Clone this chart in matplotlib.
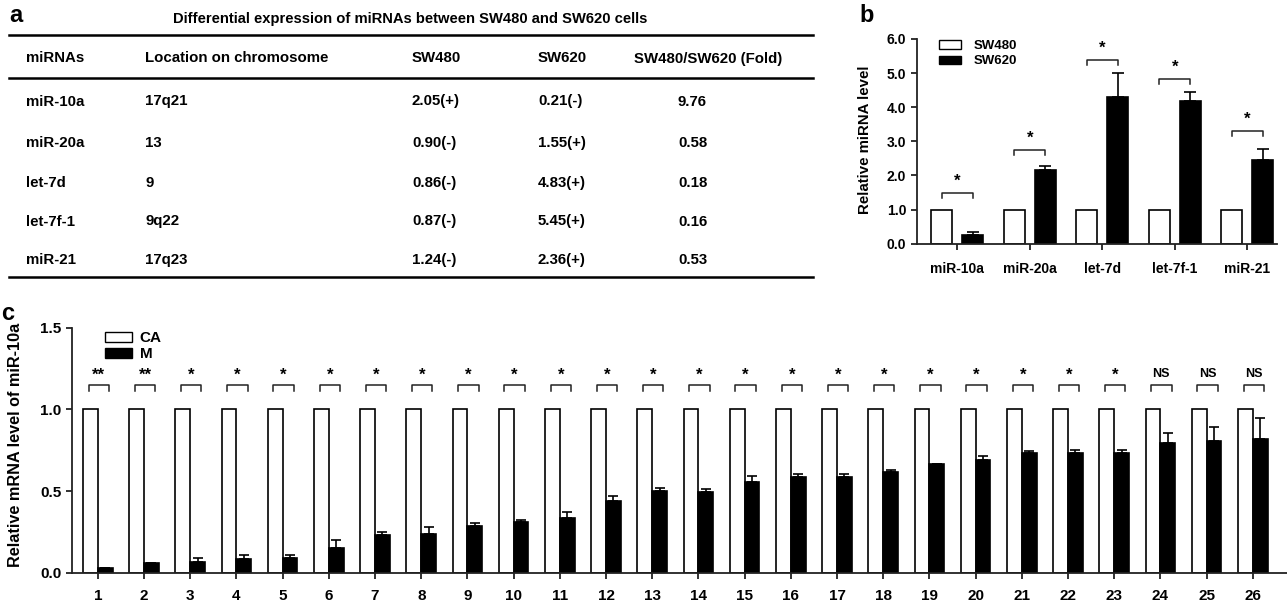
import numpy as np
import matplotlib
matplotlib.use("Agg")
import matplotlib.pyplot as plt
from matplotlib.patches import Patch

plt.rcParams['font.family'] = ['Liberation Sans', 'DejaVu Sans']
plt.rcParams['font.weight'] = 'bold'

# ---- panel a: table ----
table_title = "Differential expression of miRNAs between SW480 and SW620 cells"
table_header = ["miRNAs", "Location on chromosome", "SW480", "SW620", "SW480/SW620 (Fold)"]
mirnas = ["miR-10a", "miR-20a", "let-7d", "let-7f-1", "miR-21"]
locations = ["17q21", "13", "9", "9q22", "17q23"]
sw480_col = ["2.05(+)", "0.90(-)", "0.86(-)", "0.87(-)", "1.24(-)"]
sw620_col = ["0.21(-)", "1.55(+)", "4.83(+)", "5.45(+)", "2.36(+)"]
fold_col = ["9.76", "0.58", "0.18", "0.16", "0.53"]

# ---- panel b ----
b_labels = ["miR-10a", "miR-20a", "let-7d", "let-7f-1", "miR-21"]
b_sw480 = [1.0, 1.0, 1.0, 1.0, 1.0]
b_sw620 = [0.254, 2.15, 4.30, 4.18, 2.45]
b_sw620_err = [0.076, 0.12, 0.71, 0.27, 0.33]
b_bracket = [1.50, 2.74, 5.38, 4.84, 3.30]
b_sig = ["*", "*", "*", "*", "*"]

# ---- panel c ----
c_labels = [str(i) for i in range(1, 27)]
c_ca = [1.0] * 26
c_m = [0.03, 0.06, 0.067, 0.086, 0.088, 0.151, 0.229, 0.235, 0.284, 0.308,
       0.337, 0.441, 0.498, 0.492, 0.555, 0.584, 0.586, 0.616, 0.667, 0.69,
       0.733, 0.735, 0.735, 0.792, 0.806, 0.82]
c_m_err = [0.0, 0.0, 0.021, 0.02, 0.022, 0.049, 0.022, 0.047, 0.02, 0.014,
           0.032, 0.03, 0.022, 0.018, 0.039, 0.018, 0.02, 0.015, 0.0, 0.026,
           0.014, 0.018, 0.014, 0.065, 0.086, 0.125]
c_sig = ["**", "**"] + ["*"] * 21 + ["NS"] * 3

W, H = 1287, 606
fig = plt.figure(figsize=(W / 100, H / 100), dpi=100)


def fx(px):
    return px / W


def fy(py):
    return 1 - py / H


# ================= panel a =================
ax_a = fig.add_axes([0, 0, 1, 1])
ax_a.set_xlim(0, W)
ax_a.set_ylim(H, 0)
ax_a.axis('off')
ax_a.text(16, 16, "a", fontsize=17, fontweight='bold', ha='center', va='center')
ax_a.text(410, 18, table_title, fontsize=10.6, ha='center', va='center_baseline')
for yl in [35, 77.7, 276.7]:
    ax_a.plot([9, 813], [yl, yl], color='black', lw=1.8)
col_x = [26, 145, 412, 538, 634]
for x, h in zip(col_x, table_header):
    ax_a.text(x, 57, h, fontsize=10.8, ha='left', va='center_baseline')
row_y = [100, 141.5, 181.5, 220, 258.5]
val_x = [26, 145, 412, 538, 678]
for i, y in enumerate(row_y):
    row = [mirnas[i], locations[i], sw480_col[i], sw620_col[i], fold_col[i]]
    for x, v in zip(val_x, row):
        ax_a.text(x, y, v, fontsize=10.8, ha='left', va='center_baseline')


def style_axis(ax, fs):
    for s in ['top', 'right']:
        ax.spines[s].set_visible(False)
    for s in ['left', 'bottom']:
        ax.spines[s].set_linewidth(1.3)
        ax.spines[s].set_color('#222222')
    ax.tick_params(direction='out', length=4, width=1.3, labelsize=fs, color='#222222')
    for t in ax.get_xticklabels() + ax.get_yticklabels():
        t.set_fontweight('bold')


# ================= panel b =================
ax_b = fig.add_axes([fx(916.7), fy(243.7), fx(1276.7 - 916.7), (243.7 - 39) / H])
xb = np.arange(len(b_labels))
bw = 0.29
off = 0.215
ax_b.bar(xb - off, b_sw480, bw, color='white', edgecolor='black', lw=1.2, label='SW480')
ax_b.bar(xb + off, b_sw620, bw, color='black', edgecolor='black', lw=1.2, label='SW620')
ax_b.errorbar(xb + off, b_sw620, yerr=[np.zeros(len(xb)), b_sw620_err], fmt='none',
              ecolor='black', elinewidth=1.2, capsize=4, capthick=1.2)
for i, (h, s) in enumerate(zip(b_bracket, b_sig)):
    ax_b.plot([xb[i] - off, xb[i] - off, xb[i] + off, xb[i] + off],
              [h - 0.15, h, h, h - 0.15], color='#222222', lw=1.1)
    ax_b.text(xb[i], h + 0.12, s, fontsize=12, ha='center', va='bottom')
ax_b.set_xlim(-0.56, 4.405)
ax_b.set_ylim(0, 6.0)
ax_b.set_yticks(np.arange(0, 7, 1.0))
ax_b.set_yticklabels(["%.1f" % v for v in np.arange(0, 7, 1.0)])
ax_b.set_xticks(xb)
ax_b.set_xticklabels(b_labels)
style_axis(ax_b, 10)
ax_b.tick_params(axis='x', pad=9)
ax_b.set_ylabel("Relative miRNA level", fontsize=10.8, fontweight='bold')
ax_b.yaxis.set_label_coords(-0.124, 0.507)
ax_b.legend(handles=[Patch(facecolor='white', edgecolor='black', lw=1.0),
                     Patch(facecolor='black', edgecolor='black', lw=1.0)],
            labels=['SW480', 'SW620'], loc='upper left', bbox_to_anchor=(0.035, 1.04),
            frameon=False, fontsize=9.5, handlelength=1.7, handleheight=0.6,
            handletextpad=1.0, labelspacing=0.25, borderpad=0.2)
fig.text(fx(867), fy(15), "b", fontsize=17, fontweight='bold', ha='center', va='center')

# ================= panel c =================
ax_c = fig.add_axes([fx(72), fy(572.7), fx(W - 72), (572.7 - 327.7) / H])
xc = np.arange(1, len(c_labels) + 1)
cw = 0.32
ax_c.bar(xc, c_ca, -cw, align='edge', color='white', edgecolor='black', lw=1.2)
ax_c.bar(xc, c_m, cw, align='edge', color='black', edgecolor='black', lw=1.2)
ax_c.errorbar(xc + cw / 2, c_m, yerr=[np.zeros(len(xc)), c_m_err], fmt='none',
              ecolor='black', elinewidth=1.2, capsize=3.5, capthick=1.2)
for i, s in enumerate(c_sig):
    x0, x1 = xc[i] - 0.2, xc[i] + 0.24
    ax_c.plot([x0, x0, x1, x1], [1.114, 1.15, 1.15, 1.114], color='#222222', lw=1.1)
    if s == "NS":
        ax_c.text((x0 + x1) / 2, 1.18, s, fontsize=9, ha='center', va='bottom')
    else:
        ax_c.text((x0 + x1) / 2, 1.165, s, fontsize=12, ha='center', va='bottom')
ax_c.set_xlim(0.44, 26.74)
ax_c.set_ylim(0, 1.5)
ax_c.set_yticks([0.0, 0.5, 1.0, 1.5])
ax_c.set_yticklabels(["0.0", "0.5", "1.0", "1.5"])
ax_c.set_xticks(xc)
ax_c.set_xticklabels(c_labels)
style_axis(ax_c, 11)
ax_c.tick_params(axis='x', pad=8)
ax_c.set_ylabel("Relative mRNA level of miR-10a", fontsize=11.7, fontweight='bold')
ax_c.yaxis.set_label_coords(-0.040, 0.52)
ax_c.legend(handles=[Patch(facecolor='white', edgecolor='black', lw=1.0),
                     Patch(facecolor='black', edgecolor='black', lw=1.0)],
            labels=['CA', 'M'], loc='upper left', bbox_to_anchor=(0.018, 1.03),
            frameon=False, fontsize=11, handlelength=1.8, handleheight=0.6,
            handletextpad=0.5, labelspacing=0.15, borderpad=0.2)
fig.text(fx(8), fy(313), "c", fontsize=17, fontweight='bold', ha='center', va='center')

fig.savefig("out.png", dpi=100)
